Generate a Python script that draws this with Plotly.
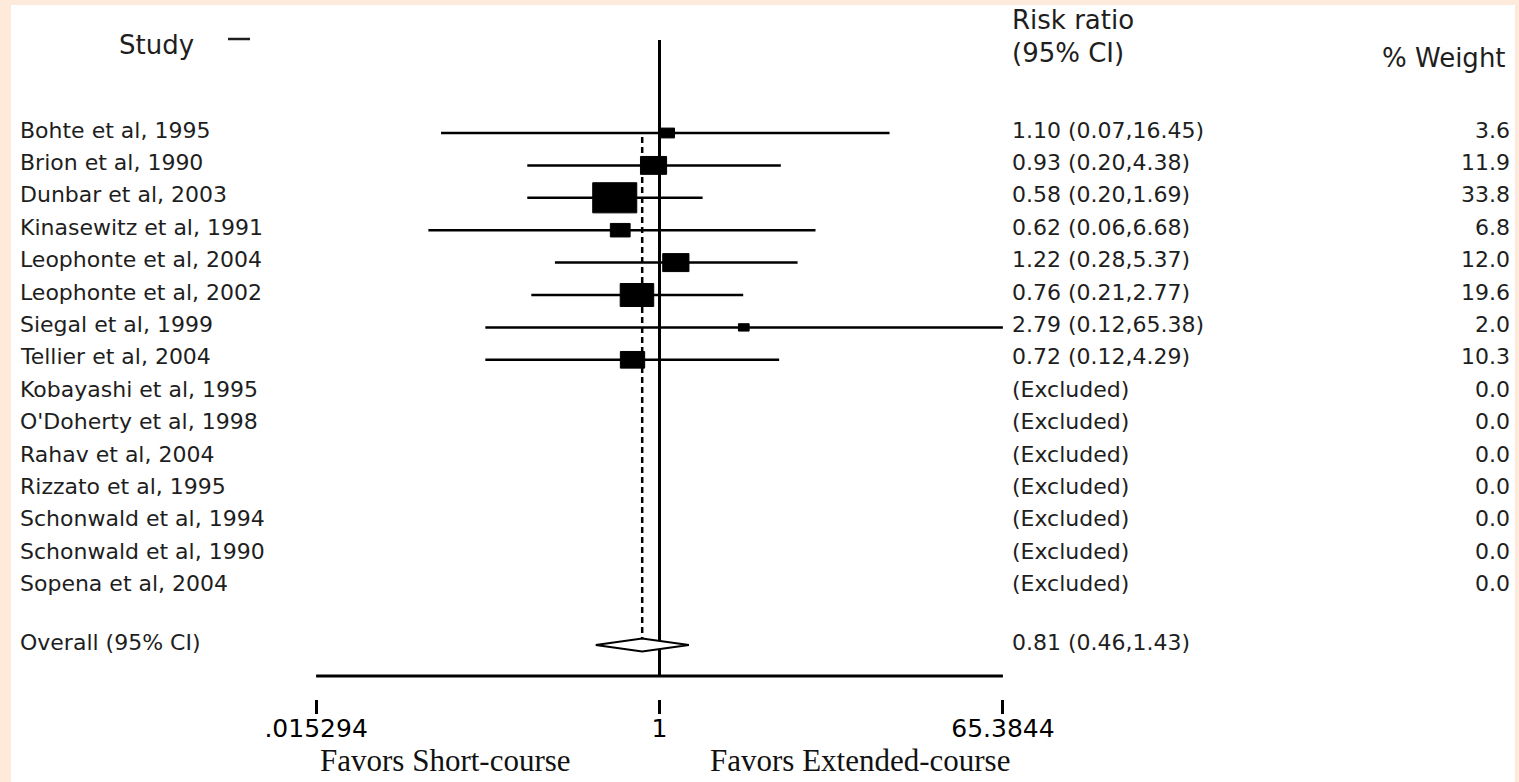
import math
import plotly.graph_objects as go

# ---------------- data ----------------
studies = ["Bohte et al, 1995", "Brion et al, 1990", "Dunbar et al, 2003",
           "Kinasewitz et al, 1991", "Leophonte et al, 2004", "Leophonte et al, 2002",
           "Siegal et al, 1999", "Tellier et al, 2004", "Kobayashi et al, 1995",
           "O'Doherty et al, 1998", "Rahav et al, 2004", "Rizzato et al, 1995",
           "Schonwald et al, 1994", "Schonwald et al, 1990", "Sopena et al, 2004"]
risk_ratio = [1.10, 0.93, 0.58, 0.62, 1.22, 0.76, 2.79, 0.72,
              None, None, None, None, None, None, None]
ci_low = [0.07, 0.20, 0.20, 0.06, 0.28, 0.21, 0.12, 0.12,
          None, None, None, None, None, None, None]
ci_high = [16.45, 4.38, 1.69, 6.68, 5.37, 2.77, 65.38, 4.29,
           None, None, None, None, None, None, None]
weight = [3.6, 11.9, 33.8, 6.8, 12.0, 19.6, 2.0, 10.3, 0.0, 0.0, 0.0, 0.0, 0.0, 0.0, 0.0]
overall_label = "Overall (95% CI)"
overall_rr, overall_low, overall_high = 0.81, 0.46, 1.43
tick_vals = [0.015294, 1, 65.3844]
tick_text = [".015294", "1", "65.3844"]
favors_left = "Favors Short-course"
favors_right = "Favors Extended-course"

# ---------------- layout helpers ----------------
W, H = 1519, 782
PEACH = "#FDEADB"
INK = "#1e1e1e"
SANS = "DejaVu Sans"
SERIF = "Liberation Serif"


def px(x):
    return x / W


def py(y):
    return 1 - y / H


ROW0, ROWH = 133.0, 32.4          # pixel centre of first row, row pitch
TOP_PX, BOT_PX = 40.0, 699.0      # plot area top / bottom in pixels


def row_of(ypx):
    return (ypx - ROW0) / ROWH


y_top = row_of(TOP_PX)
y_bot = row_of(BOT_PX)
axis_row = row_of(676)
overall_row = row_of(645)

fig = go.Figure()

# null line at 1
fig.add_trace(go.Scatter(x=[1, 1], y=[y_top, axis_row], mode="lines",
                         line=dict(color="black", width=3), hoverinfo="skip"))
# horizontal axis line
fig.add_trace(go.Scatter(x=[tick_vals[0], tick_vals[-1]], y=[axis_row, axis_row], mode="lines",
                         line=dict(color="black", width=3), hoverinfo="skip"))
# dashed overall line
fig.add_trace(go.Scatter(x=[overall_rr, overall_rr], y=[0.12, overall_row - 0.2], mode="lines",
                         line=dict(color="black", width=2.5, dash="6px,4px"), hoverinfo="skip"))

# CI lines and boxes
HW = 0.0461   # half box width (ln units) per sqrt(weight)
HH = 0.080    # half box height (rows) per sqrt(weight)
for i, (r, lo, hi, w) in enumerate(zip(risk_ratio, ci_low, ci_high, weight)):
    if r is None:
        continue
    fig.add_trace(go.Scatter(x=[lo, hi], y=[i, i], mode="lines",
                             line=dict(color="black", width=2.5), hoverinfo="skip"))
    s = math.sqrt(w)
    x0, x1 = r * math.exp(-HW * s), r * math.exp(HW * s)
    y0, y1 = i - HH * s, i + HH * s
    fig.add_trace(go.Scatter(x=[x0, x1, x1, x0, x0], y=[y0, y0, y1, y1, y0], mode="lines",
                             fill="toself", fillcolor="black",
                             line=dict(color="black", width=1), hoverinfo="skip"))

# overall diamond
dh = 0.2
fig.add_trace(go.Scatter(x=[overall_low, overall_rr, overall_high, overall_rr, overall_low],
                         y=[overall_row, overall_row - dh, overall_row, overall_row + dh, overall_row],
                         mode="lines", fill="toself", fillcolor="white",
                         line=dict(color="black", width=2), hoverinfo="skip"))

annotations = []
body_font = dict(family=SANS, size=22, color=INK)
head_font = dict(family=SANS, size=26, color=INK)

for i, (name, r, lo, hi, w) in enumerate(zip(studies, risk_ratio, ci_low, ci_high, weight)):
    annotations.append(dict(x=px(18), xref="paper", y=i, yref="y", text=name, showarrow=False,
                            xanchor="left", yanchor="middle", yshift=3, font=body_font))
    txt = "(Excluded)" if r is None else f"{r:.2f} ({lo:.2f},{hi:.2f})"
    annotations.append(dict(x=px(1010), xref="paper", y=i, yref="y", text=txt, showarrow=False,
                            xanchor="left", yanchor="middle", yshift=3, font=body_font))
    annotations.append(dict(x=px(1512), xref="paper", y=i, yref="y", text=f"{w:.1f}", showarrow=False,
                            xanchor="right", yanchor="middle", yshift=3, font=body_font))

annotations.append(dict(x=px(18), xref="paper", y=overall_row, yref="y", text=overall_label,
                        showarrow=False, xanchor="left", yanchor="middle", yshift=3, font=body_font))
annotations.append(dict(x=px(1010), xref="paper", y=overall_row, yref="y",
                        text=f"{overall_rr:.2f} ({overall_low:.2f},{overall_high:.2f})",
                        showarrow=False, xanchor="left", yanchor="middle", yshift=3, font=body_font))

# headers
favors_font = dict(family=SERIF, size=31, color="#111")
annotations += [
    dict(x=px(156), xref="paper", y=py(45), yref="paper", text="Study", showarrow=False,
         xanchor="center", yanchor="middle", font=head_font),
    dict(x=px(1010), xref="paper", y=py(20), yref="paper", text="Risk ratio", showarrow=False,
         xanchor="left", yanchor="middle", font=head_font),
    dict(x=px(1010), xref="paper", y=py(53), yref="paper", text="(95% CI)", showarrow=False,
         xanchor="left", yanchor="middle", font=head_font),
    dict(x=px(1508), xref="paper", y=py(58), yref="paper", text="% Weight", showarrow=False,
         xanchor="right", yanchor="middle", font=head_font),
    dict(x=px(318), xref="paper", y=py(780), yref="paper", text=favors_left, showarrow=False,
         xanchor="left", yanchor="bottom", font=favors_font),
    dict(x=px(708), xref="paper", y=py(780), yref="paper", text=favors_right, showarrow=False,
         xanchor="left", yanchor="bottom", font=favors_font),
]

shapes = [
    dict(type="rect", xref="paper", yref="paper", x0=px(11), x1=px(1515), y0=-0.01, y1=py(5),
         fillcolor="white", line=dict(width=0), layer="below"),
    dict(type="line", xref="paper", yref="paper", x0=px(228), x1=px(250), y0=py(39), y1=py(39),
         line=dict(color=INK, width=2.5)),
]

lx0, lx1 = math.log10(tick_vals[0]), math.log10(tick_vals[-1])
eps = 0.0005
fig.update_layout(
    width=W, height=H,
    margin=dict(l=0, r=0, t=0, b=0, pad=0),
    paper_bgcolor=PEACH,
    plot_bgcolor="white",
    showlegend=False,
    annotations=annotations,
    shapes=shapes,
    xaxis=dict(type="log", domain=[px(316), px(1003)], range=[lx0 - eps, lx1 + eps],
               tickvals=tick_vals, ticktext=tick_text, ticks="outside", ticklen=14,
               tickwidth=3, tickcolor="black", showline=False, showgrid=False,
               zeroline=False, automargin=False, ticklabelstandoff=-7,
               tickfont=dict(family=SANS, size=25, color="black"), fixedrange=True),
    yaxis=dict(domain=[py(BOT_PX), py(TOP_PX)], range=[y_bot, y_top], showticklabels=False,
               showgrid=False, zeroline=False, showline=False, ticks="", automargin=False,
               fixedrange=True),
)

fig.write_html("out.html", config={"displayModeBar": False},
               post_script="document.body.style.margin='0';document.body.style.overflow='hidden';")
